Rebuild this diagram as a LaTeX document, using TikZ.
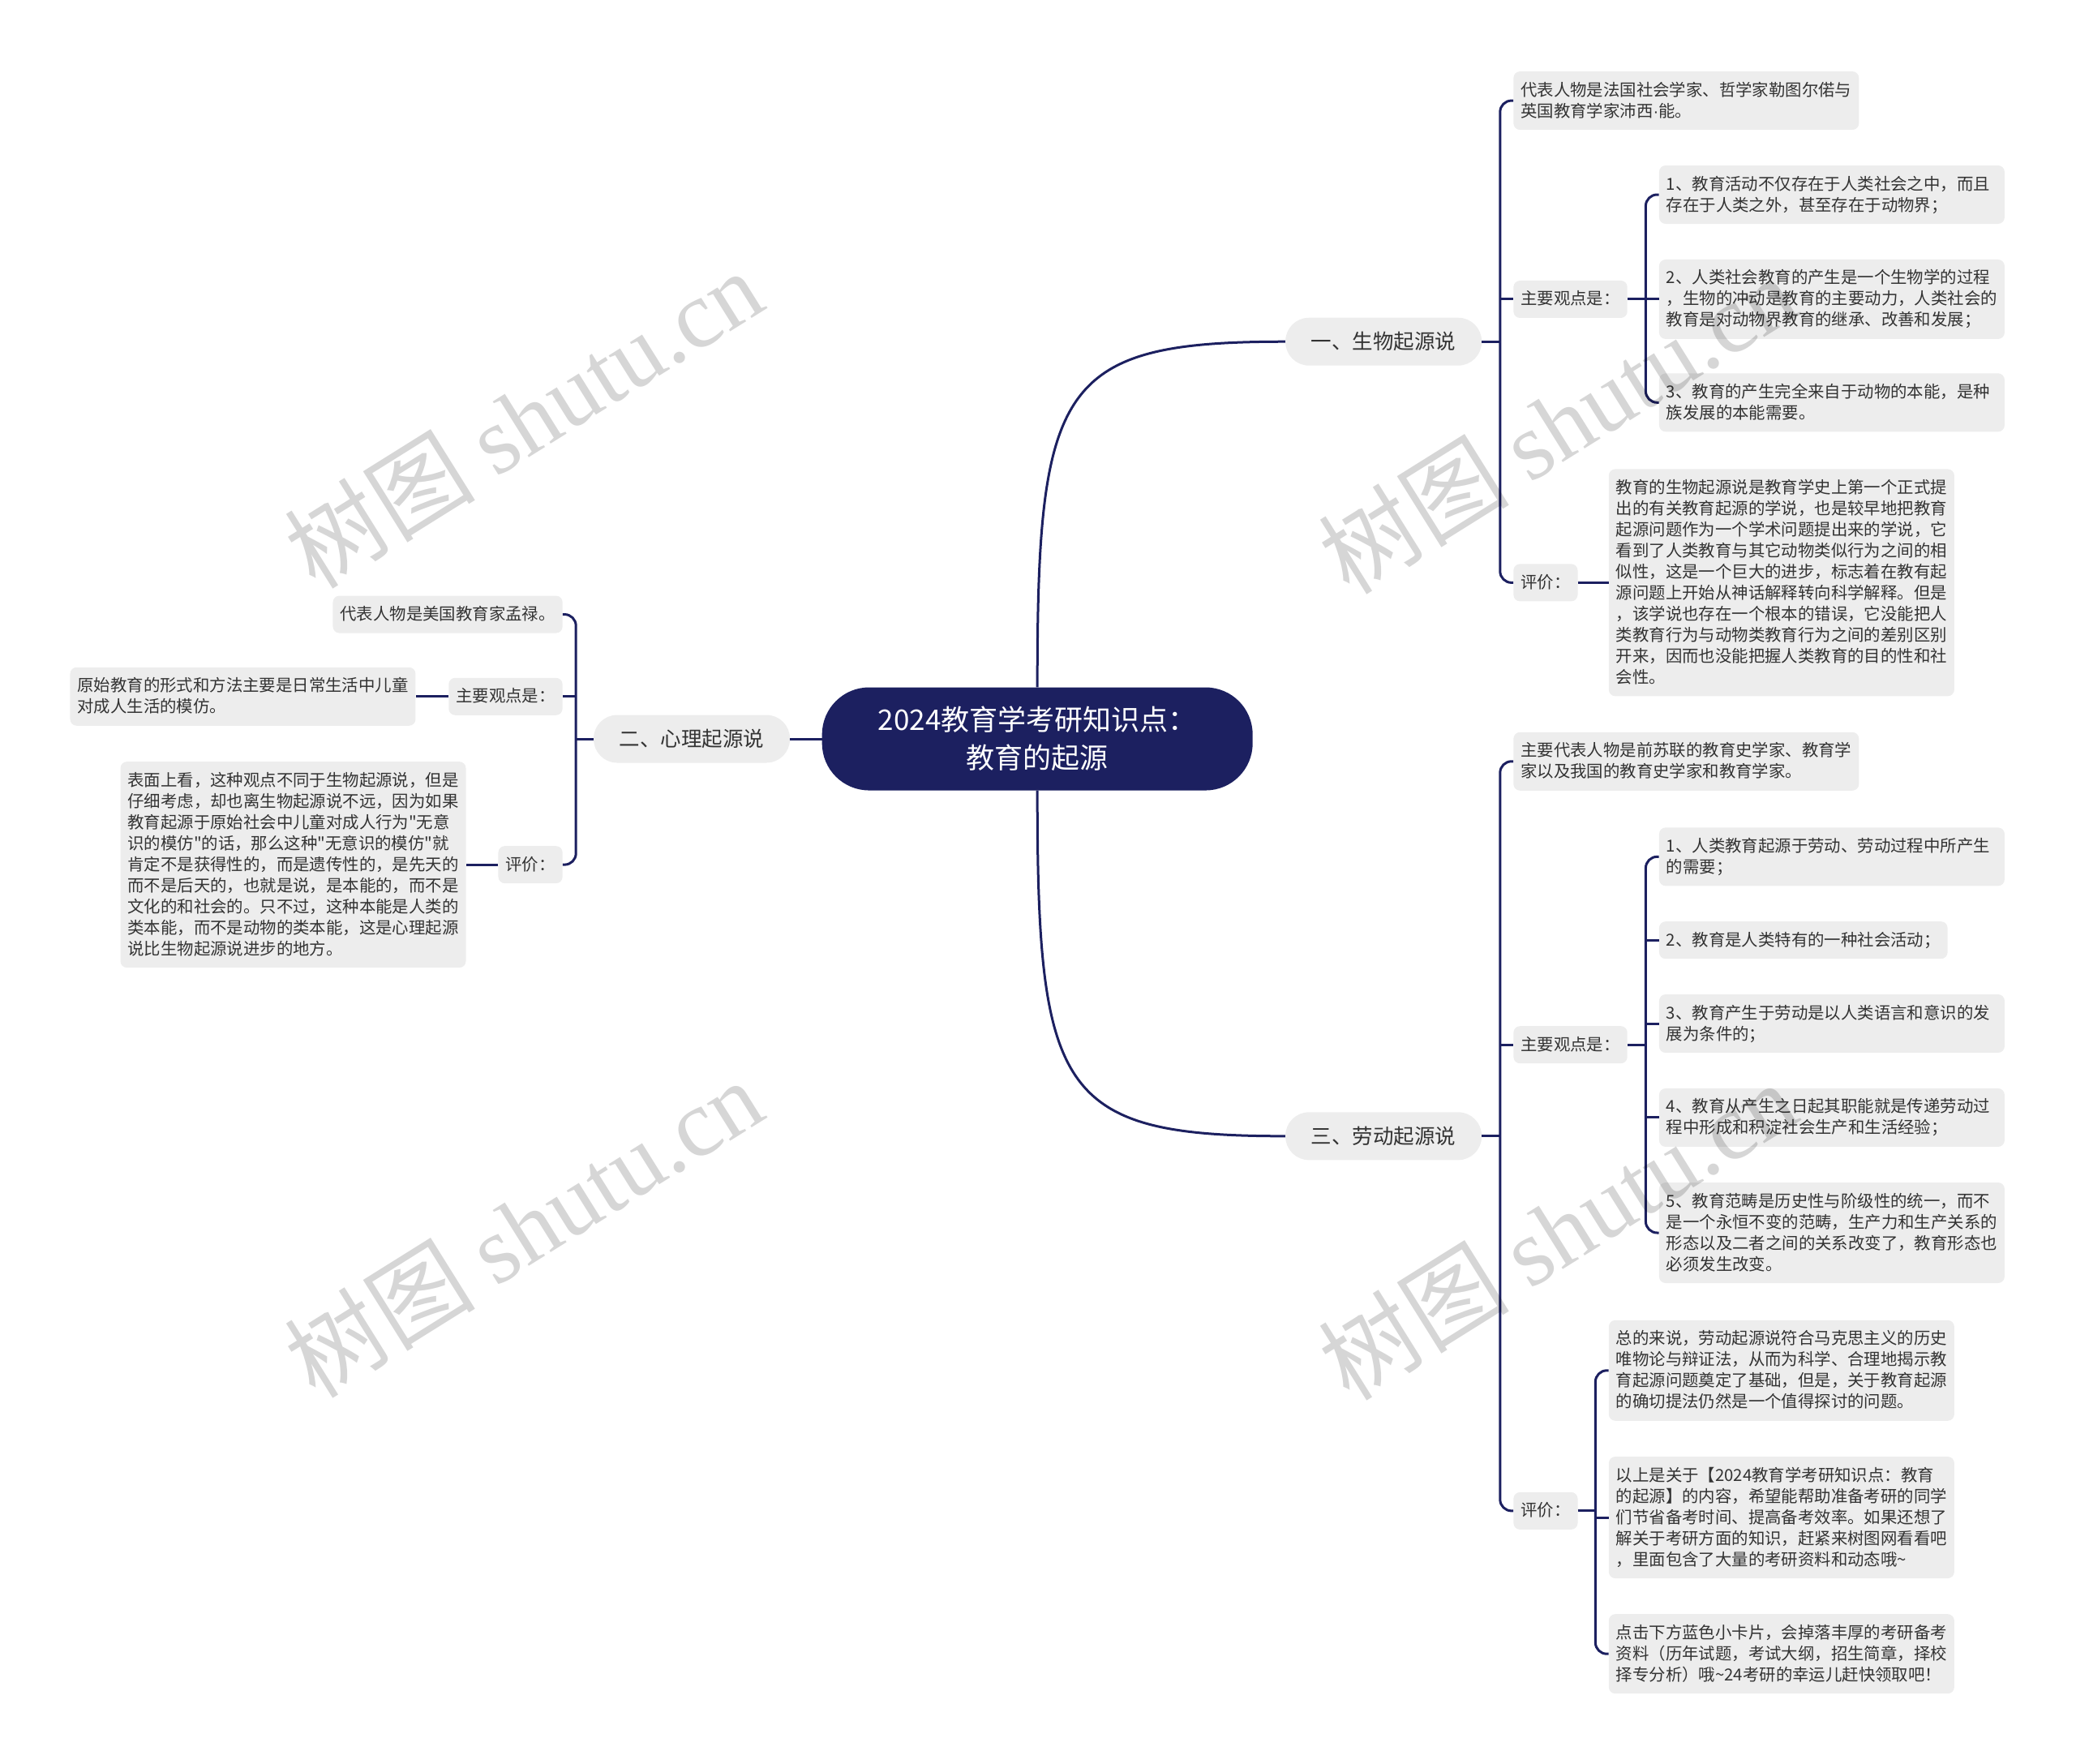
\documentclass[tikz,border=0pt]{standalone}
\usepackage{fontspec}
\setmainfont{Noto Sans CJK SC}[Ligatures=TeXOff]
\newfontfamily\wmserif{Liberation Serif}
\newfontfamily\latinsans{Liberation Sans}
\usetikzlibrary{calc}
\definecolor{navy}{HTML}{1C2060}
\definecolor{boxgray}{HTML}{EDEDED}
\definecolor{txtgray}{HTML}{333333}
\newcommand\leaffont{\fontsize{20.4pt}{26pt}\selectfont}
\newcommand\topicfont{\fontsize{25.5pt}{32pt}\selectfont}
\newcommand\rootfont{\fontsize{35pt}{47pt}\selectfont}
\newcommand\wmfont{\fontsize{118pt}{118pt}\selectfont}
\newcommand\mystrut{\rule[-6pt]{0pt}{26pt}}
\begin{document}
\begin{tikzpicture}[x=1.6327pt, y=-1.6327pt,
  leaf/.style={fill=boxgray, rounded corners=8pt, text=txtgray, font=\leaffont,
    inner xsep=9pt, inner ysep=10pt, align=left,
    execute at begin node=\mystrut, execute at end node=\mystrut},
  wide/.style={leaf, text width=408pt},
  topic/.style={fill=boxgray, rounded corners=29pt, text=txtgray, font=\topicfont,
    minimum width=242pt, minimum height=59pt, inner sep=0pt},
  root/.style={fill=navy, text=white, rounded corners=58pt, minimum width=531pt,
    minimum height=127pt, font=\rootfont, align=center, inner sep=0pt},
  link/.style={draw=navy, line width=3pt},
  spine/.style={link, rounded corners=14pt},
  wm/.style={font=\wmfont, text=black, text opacity=0.16, rotate=32, inner sep=0pt}]
\useasboundingbox (0,0) rectangle (1568,1332);

% root and topics
\node[root] (c) at (783.5,558) {2024教育学考研知识点：\\教育的起源};
\node[topic] (n1) at (1045,258) {一、生物起源说};
\node[topic] (n2) at (522.5,558) {二、心理起源说};
\node[topic] (n3) at (1045,858) {三、劳动起源说};

% biology branch
\node[wide, anchor=west] (b1a) at (1143,76) {代表人物是法国社会学家、哲学家勒图尔偌与\\英国教育学家沛西{\latinsans ·}能。};
\node[leaf, anchor=west] (b1b) at (1143,226) {主要观点是：};
\node[leaf, anchor=west] (b1c) at (1143,440) {评价：};
\node[wide, anchor=west] (b1b1) at (1253,147) {1、教育活动不仅存在于人类社会之中，而且\\存在于人类之外，甚至存在于动物界；};
\node[wide, anchor=west] (b1b2) at (1253,226) {2、人类社会教育的产生是一个生物学的过程\\，生物的冲动是教育的主要动力，人类社会的\\教育是对动物界教育的继承、改善和发展；};
\node[wide, anchor=west] (b1b3) at (1253,304) {3、教育的产生完全来自于动物的本能，是种\\族发展的本能需要。};
\node[wide, anchor=west] (b1c1) at (1215,440) {教育的生物起源说是教育学史上第一个正式提\\出的有关教育起源的学说，也是较早地把教育\\起源问题作为一个学术问题提出来的学说，它\\看到了人类教育与其它动物类似行为之间的相\\似性，这是一个巨大的进步，标志着在教有起\\源问题上开始从神话解释转向科学解释。但是\\，该学说也存在一个根本的错误，它没能把人\\类教育行为与动物类教育行为之间的差别区别\\开来，因而也没能把握人类教育的目的性和社\\会性。};

% psychology branch
\node[leaf, anchor=east] (p1) at (425,464) {代表人物是美国教育家孟禄。};
\node[leaf, anchor=east] (p2) at (425,526) {主要观点是：};
\node[leaf, anchor=east] (p3) at (425,653) {评价：};
\node[wide, anchor=east] (p2a) at (314,526) {原始教育的形式和方法主要是日常生活中儿童\\对成人生活的模仿。};
\node[wide, anchor=east] (p3a) at (352,653) {表面上看，这种观点不同于生物起源说，但是\\仔细考虑，却也离生物起源说不远，因为如果\\教育起源于原始社会中儿童对成人行为"无意\\识的模仿"的话，那么这种"无意识的模仿"就\\肯定不是获得性的，而是遗传性的，是先天的\\而不是后天的，也就是说，是本能的，而不是\\文化的和社会的。只不过，这种本能是人类的\\类本能，而不是动物的类本能，这是心理起源\\说比生物起源说进步的地方。};

% labour branch
\node[wide, anchor=west] (l1) at (1143,575) {主要代表人物是前苏联的教育史学家、教育学\\家以及我国的教育史学家和教育学家。};
\node[leaf, anchor=west] (l2) at (1143,789) {主要观点是：};
\node[leaf, anchor=west] (l3) at (1143,1141) {评价：};
\node[wide, anchor=west] (l2a) at (1253,647) {1、人类教育起源于劳动、劳动过程中所产生\\的需要；};
\node[leaf, anchor=west] (l2b) at (1253,710) {2、教育是人类特有的一种社会活动；};
\node[wide, anchor=west] (l2c) at (1253,773) {3、教育产生于劳动是以人类语言和意识的发\\展为条件的；};
\node[wide, anchor=west] (l2d) at (1253,844) {4、教育从产生之日起其职能就是传递劳动过\\程中形成和积淀社会生产和生活经验；};
\node[wide, anchor=west] (l2e) at (1253,931) {5、教育范畴是历史性与阶级性的统一，而不\\是一个永恒不变的范畴，生产力和生产关系的\\形态以及二者之间的关系改变了，教育形态也\\必须发生改变。};
\node[wide, anchor=west] (l3a) at (1215,1035) {总的来说，劳动起源说符合马克思主义的历史\\唯物论与辩证法，从而为科学、合理地揭示教\\育起源问题奠定了基础，但是，关于教育起源\\的确切提法仍然是一个值得探讨的问题。};
\node[wide, anchor=west] (l3b) at (1215,1146) {以上是关于【2024教育学考研知识点：教育\\的起源】的内容，希望能帮助准备考研的同学\\们节省备考时间、提高备考效率。如果还想了\\解关于考研方面的知识，赶紧来树图网看看吧\\，里面包含了大量的考研资料和动态哦\string~};
\node[wide, anchor=west] (l3c) at (1215,1249) {点击下方蓝色小卡片，会掉落丰厚的考研备考\\资料（历年试题，考试大纲，招生简章，择校\\择专分析）哦\string~24考研的幸运儿赶快领取吧！};

% spine coordinates
\coordinate (s1) at (1133,258);
\coordinate (s1b) at (1243,226);
\coordinate (s2) at (435,558);
\coordinate (s3) at (1133,858);
\coordinate (s3b) at (1243,789);
\coordinate (s3c) at (1205,1141);

% root connectors
\draw[link] (c.north) .. controls +(0,-229) and +(-171,0) .. (n1.west);
\draw[link] (c.south) .. controls +(0,229) and +(-171,0) .. (n3.west);
\draw[link] (c.west) -- (n2.east);

% biology
\draw[link] (n1.east) -- (s1);
\draw[spine] (b1a.west) -- (b1a.west -| s1) -- (b1c.west -| s1) -- (b1c.west);
\draw[link] (b1b.west -| s1) -- (b1b.west);
\draw[link] (b1b.east) -- (s1b);
\draw[spine] (b1b1.west) -- (b1b1.west -| s1b) -- (b1b3.west -| s1b) -- (b1b3.west);
\draw[link] (b1b2.west -| s1b) -- (b1b2.west);
\draw[link] (b1c.east) -- (b1c1.west);

% psychology
\draw[link] (n2.west) -- (s2);
\draw[spine] (p1.east) -- (p1.east -| s2) -- (p3.east -| s2) -- (p3.east);
\draw[link] (p2.east -| s2) -- (p2.east);
\draw[link] (p2.west) -- (p2a.east);
\draw[link] (p3.west) -- (p3a.east);

% labour
\draw[link] (n3.east) -- (s3);
\draw[spine] (l1.west) -- (l1.west -| s3) -- (l3.west -| s3) -- (l3.west);
\draw[link] (l2.west -| s3) -- (l2.west);
\draw[link] (l2.east) -- (s3b);
\draw[spine] (l2a.west) -- (l2a.west -| s3b) -- (l2e.west -| s3b) -- (l2e.west);
\draw[link] (l2b.west -| s3b) -- (l2b.west);
\draw[link] (l2c.west -| s3b) -- (l2c.west);
\draw[link] (l2d.west -| s3b) -- (l2d.west);
\draw[link] (l3.east) -- (s3c);
\draw[spine] (l3a.west) -- (l3a.west -| s3c) -- (l3c.west -| s3c) -- (l3c.west);
\draw[link] (l3b.west -| s3c) -- (l3b.west);

% watermarks
\node[wm] (w1) at (395,316) {树图 {\wmserif shutu.cn}};
\node[wm] (w2) at (1176,320) {树图 {\wmserif shutu.cn}};
\node[wm] (w3) at (395,927) {树图 {\wmserif shutu.cn}};
\node[wm] (w4) at (1176,929) {树图 {\wmserif shutu.cn}};
\end{tikzpicture}
\end{document}
